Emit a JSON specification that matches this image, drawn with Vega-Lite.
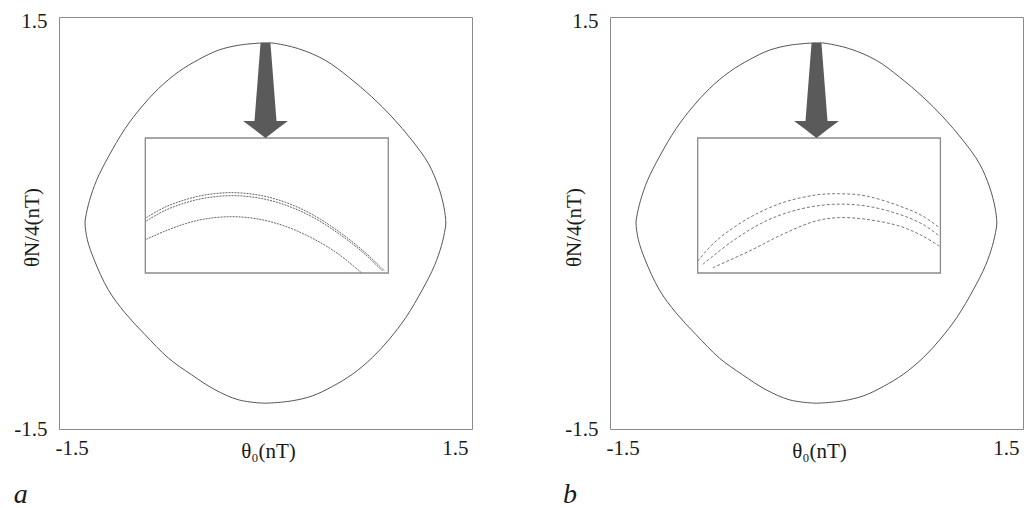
{
  "$schema": "https://vega.github.io/schema/vega-lite/v6.json",
  "padding": {"left": 13, "top": 9, "right": 0, "bottom": 0},
  "background": "white",
  "config": {
    "view": {"stroke": "#8a8a8a", "strokeWidth": 1},
    "axis": {"domain": false, "ticks": false, "grid": false, "labelFont": "Liberation Serif", "labelFontSize": 21, "labelColor": "#1a1a1a", "titleFont": "Liberation Serif", "titleFontSize": 21, "titleFontWeight": "normal", "titleColor": "#1a1a1a"},
    "title": {"font": "Liberation Serif", "fontSize": 28, "fontStyle": "italic", "fontWeight": "normal", "color": "#1a1a1a", "orient": "bottom", "anchor": "start", "offset": 20},
    "concat": {"spacing": 89}
  },
  "datasets": {
    "curve": [
      {"i": 0, "x": 0.0, "y": 1.312}, {"i": 1, "x": -0.028, "y": 1.311}, {"i": 2, "x": -0.198, "y": 1.294}, {"i": 3, "x": -0.343, "y": 1.258},
      {"i": 4, "x": -0.488, "y": 1.189}, {"i": 5, "x": -0.633, "y": 1.1}, {"i": 6, "x": -0.778, "y": 0.978}, {"i": 7, "x": -0.9, "y": 0.845},
      {"i": 8, "x": -1.02, "y": 0.687}, {"i": 9, "x": -1.142, "y": 0.481}, {"i": 10, "x": -1.227, "y": 0.311}, {"i": 11, "x": -1.278, "y": 0.165},
      {"i": 12, "x": -1.306, "y": 0.044}, {"i": 13, "x": -1.311, "y": 0.0}, {"i": 14, "x": -1.294, "y": -0.122}, {"i": 15, "x": -1.245, "y": -0.267},
      {"i": 16, "x": -1.142, "y": -0.486}, {"i": 17, "x": -1.02, "y": -0.655}, {"i": 18, "x": -0.875, "y": -0.813}, {"i": 19, "x": -0.706, "y": -0.983},
      {"i": 20, "x": -0.537, "y": -1.105}, {"i": 21, "x": -0.367, "y": -1.214}, {"i": 22, "x": -0.198, "y": -1.287}, {"i": 23, "x": -0.028, "y": -1.311},
      {"i": 24, "x": 0.028, "y": -1.311}, {"i": 25, "x": 0.198, "y": -1.294}, {"i": 26, "x": 0.343, "y": -1.258}, {"i": 27, "x": 0.488, "y": -1.189},
      {"i": 28, "x": 0.633, "y": -1.1}, {"i": 29, "x": 0.778, "y": -0.978}, {"i": 30, "x": 0.9, "y": -0.845}, {"i": 31, "x": 1.02, "y": -0.687},
      {"i": 32, "x": 1.142, "y": -0.481}, {"i": 33, "x": 1.227, "y": -0.311}, {"i": 34, "x": 1.278, "y": -0.165}, {"i": 35, "x": 1.305, "y": -0.044},
      {"i": 36, "x": 1.31, "y": 0.0}, {"i": 37, "x": 1.296, "y": 0.117}, {"i": 38, "x": 1.257, "y": 0.262}, {"i": 39, "x": 1.184, "y": 0.432},
      {"i": 40, "x": 1.064, "y": 0.602}, {"i": 41, "x": 0.919, "y": 0.772}, {"i": 42, "x": 0.773, "y": 0.918}, {"i": 43, "x": 0.603, "y": 1.063},
      {"i": 44, "x": 0.434, "y": 1.185}, {"i": 45, "x": 0.24, "y": 1.269}, {"i": 46, "x": 0.047, "y": 1.311}, {"i": 47, "x": 0.0, "y": 1.312}
    ],
    "arrow": [
      {"x": -0.163, "y": 0.743, "y2": 0.743}, {"x": -0.08, "y": 0.743, "y2": 0.68}, {"x": -0.036, "y": 1.311, "y2": 0.646},
      {"x": 0.0, "y": 1.311, "y2": 0.619}, {"x": 0.036, "y": 1.311, "y2": 0.646}, {"x": 0.08, "y": 0.743, "y2": 0.68}, {"x": 0.163, "y": 0.743, "y2": 0.743}
    ],
    "insetA": [{"x": -0.873, "xe": 0.892, "y": 0.619, "ye": -0.364}],
    "insetB": [{"x": -0.863, "xe": 0.9, "y": 0.619, "ye": -0.364}],
    "arcsA": [
      {"arc": "1", "i": 0, "x": -0.866, "y": 0.039}, {"arc": "1", "i": 1, "x": -0.733, "y": 0.114}, {"arc": "1", "i": 2, "x": -0.588, "y": 0.168},
      {"arc": "1", "i": 3, "x": -0.442, "y": 0.204}, {"arc": "1", "i": 4, "x": -0.248, "y": 0.221}, {"arc": "1", "i": 5, "x": -0.054, "y": 0.204},
      {"arc": "1", "i": 6, "x": 0.139, "y": 0.153}, {"arc": "1", "i": 7, "x": 0.333, "y": 0.066}, {"arc": "1", "i": 8, "x": 0.527, "y": -0.058},
      {"arc": "1", "i": 9, "x": 0.72, "y": -0.211}, {"arc": "1", "i": 10, "x": 0.865, "y": -0.35},
      {"arc": "2", "i": 0, "x": -0.866, "y": 0.015}, {"arc": "2", "i": 1, "x": -0.733, "y": 0.09}, {"arc": "2", "i": 2, "x": -0.588, "y": 0.145},
      {"arc": "2", "i": 3, "x": -0.442, "y": 0.181}, {"arc": "2", "i": 4, "x": -0.248, "y": 0.199}, {"arc": "2", "i": 5, "x": -0.054, "y": 0.183},
      {"arc": "2", "i": 6, "x": 0.139, "y": 0.133}, {"arc": "2", "i": 7, "x": 0.333, "y": 0.048}, {"arc": "2", "i": 8, "x": 0.527, "y": -0.074},
      {"arc": "2", "i": 9, "x": 0.72, "y": -0.225}, {"arc": "2", "i": 10, "x": 0.85, "y": -0.35},
      {"arc": "3", "i": 0, "x": -0.866, "y": -0.119}, {"arc": "3", "i": 1, "x": -0.733, "y": -0.06}, {"arc": "3", "i": 2, "x": -0.588, "y": -0.007},
      {"arc": "3", "i": 3, "x": -0.442, "y": 0.029}, {"arc": "3", "i": 4, "x": -0.248, "y": 0.046}, {"arc": "3", "i": 5, "x": -0.054, "y": 0.029},
      {"arc": "3", "i": 6, "x": 0.139, "y": -0.022}, {"arc": "3", "i": 7, "x": 0.333, "y": -0.107}, {"arc": "3", "i": 8, "x": 0.527, "y": -0.224},
      {"arc": "3", "i": 9, "x": 0.696, "y": -0.362}
    ],
    "arcsB": [
      {"arc": "1", "i": 0, "x": -0.863, "y": -0.277}, {"arc": "1", "i": 1, "x": -0.73, "y": -0.131}, {"arc": "1", "i": 2, "x": -0.487, "y": 0.039},
      {"arc": "1", "i": 3, "x": -0.245, "y": 0.148}, {"arc": "1", "i": 4, "x": -0.004, "y": 0.204}, {"arc": "1", "i": 5, "x": 0.166, "y": 0.213},
      {"arc": "1", "i": 6, "x": 0.359, "y": 0.197}, {"arc": "1", "i": 7, "x": 0.602, "y": 0.124}, {"arc": "1", "i": 8, "x": 0.771, "y": 0.051},
      {"arc": "1", "i": 9, "x": 0.892, "y": -0.034},
      {"arc": "2", "i": 0, "x": -0.826, "y": -0.301}, {"arc": "2", "i": 1, "x": -0.609, "y": -0.131}, {"arc": "2", "i": 2, "x": -0.367, "y": 0.015},
      {"arc": "2", "i": 3, "x": -0.124, "y": 0.1}, {"arc": "2", "i": 4, "x": 0.118, "y": 0.136}, {"arc": "2", "i": 5, "x": 0.359, "y": 0.124},
      {"arc": "2", "i": 6, "x": 0.602, "y": 0.063}, {"arc": "2", "i": 7, "x": 0.771, "y": -0.009}, {"arc": "2", "i": 8, "x": 0.892, "y": -0.095},
      {"arc": "3", "i": 0, "x": -0.754, "y": -0.326}, {"arc": "3", "i": 1, "x": -0.487, "y": -0.204}, {"arc": "3", "i": 2, "x": -0.245, "y": -0.082},
      {"arc": "3", "i": 3, "x": -0.004, "y": 0.015}, {"arc": "3", "i": 4, "x": 0.166, "y": 0.039}, {"arc": "3", "i": 5, "x": 0.359, "y": 0.027},
      {"arc": "3", "i": 6, "x": 0.602, "y": -0.022}, {"arc": "3", "i": 7, "x": 0.771, "y": -0.095}, {"arc": "3", "i": 8, "x": 0.892, "y": -0.168}
    ]
  },
  "hconcat": [
    {
      "title": "a",
      "width": 413,
      "height": 412,
      "encoding": {
        "x": {"field": "x", "type": "quantitative", "scale": {"domain": [-1.5, 1.5], "nice": false, "zero": false},
          "axis": {"title": "θ₀(nT)", "values": [-1.5, 1.5], "labelExpr": "datum.value > 0 ? '1.5' : '-1.5'", "labelPadding": 8, "labelOffset": -4, "titleX": 209, "titleY": 22, "titleBaseline": "middle", "titleAlign": "center"}},
        "y": {"field": "y", "type": "quantitative", "scale": {"domain": [-1.5, 1.5], "nice": false, "zero": false},
          "axis": {"title": "θN/4(nT)", "values": [-1.5, 1.5], "labelExpr": "datum.value > 0 ? '1.5' : '-1.5'", "labelPadding": 12, "labelOffset": {"condition": {"test": "datum.value > 0", "value": 4}, "value": 0}, "titleX": -27, "titleY": 210, "titleAngle": -90, "titleBaseline": "middle", "titleAlign": "center"}}
      },
      "layer": [
        {
          "data": {"name": "curve"},
          "mark": {"type": "line", "interpolate": "catmull-rom", "color": "#555", "strokeWidth": 1},
          "encoding": {"order": {"field": "i", "type": "quantitative"}}
        },
        {
          "data": {"name": "insetA"},
          "mark": {"type": "rect", "fill": "white", "stroke": "#8a8a8a", "strokeWidth": 1.3},
          "encoding": {"x2": {"field": "xe"}, "y2": {"field": "ye"}}
        },
        {
          "data": {"name": "arcsA"},
          "mark": {"type": "line", "interpolate": "catmull-rom", "color": "#666", "strokeWidth": 1, "strokeDash": [2, 1]},
          "encoding": {"detail": {"field": "arc", "type": "nominal"}, "order": {"field": "i", "type": "quantitative"}}
        },
        {
          "data": {"name": "arrow"},
          "mark": {"type": "area", "color": "#5a5a5a", "interpolate": "linear"},
          "encoding": {"y2": {"field": "y2"}}
        }
      ]
    },
    {
      "title": "b",
      "width": 413,
      "height": 412,
      "encoding": {
        "x": {"field": "x", "type": "quantitative", "scale": {"domain": [-1.5, 1.5], "nice": false, "zero": false},
          "axis": {"title": "θ₀(nT)", "values": [-1.5, 1.5], "labelExpr": "datum.value > 0 ? '1.5' : '-1.5'", "labelPadding": 8, "labelOffset": -4, "titleX": 209, "titleY": 22, "titleBaseline": "middle", "titleAlign": "center"}},
        "y": {"field": "y", "type": "quantitative", "scale": {"domain": [-1.5, 1.5], "nice": false, "zero": false},
          "axis": {"title": "θN/4(nT)", "values": [-1.5, 1.5], "labelExpr": "datum.value > 0 ? '1.5' : '-1.5'", "labelPadding": 12, "labelOffset": {"condition": {"test": "datum.value > 0", "value": 4}, "value": 0}, "titleX": -36, "titleY": 210, "titleAngle": -90, "titleBaseline": "middle", "titleAlign": "center"}}
      },
      "layer": [
        {
          "data": {"name": "curve"},
          "mark": {"type": "line", "interpolate": "catmull-rom", "color": "#555", "strokeWidth": 1},
          "encoding": {"order": {"field": "i", "type": "quantitative"}}
        },
        {
          "data": {"name": "insetB"},
          "mark": {"type": "rect", "fill": "white", "stroke": "#8a8a8a", "strokeWidth": 1.3},
          "encoding": {"x2": {"field": "xe"}, "y2": {"field": "ye"}}
        },
        {
          "data": {"name": "arcsB"},
          "mark": {"type": "line", "interpolate": "catmull-rom", "color": "#777", "strokeWidth": 1, "strokeDash": [3, 2]},
          "encoding": {"detail": {"field": "arc", "type": "nominal"}, "order": {"field": "i", "type": "quantitative"}}
        },
        {
          "data": {"name": "arrow"},
          "mark": {"type": "area", "color": "#5a5a5a", "interpolate": "linear"},
          "encoding": {"y2": {"field": "y2"}}
        }
      ]
    }
  ]
}
